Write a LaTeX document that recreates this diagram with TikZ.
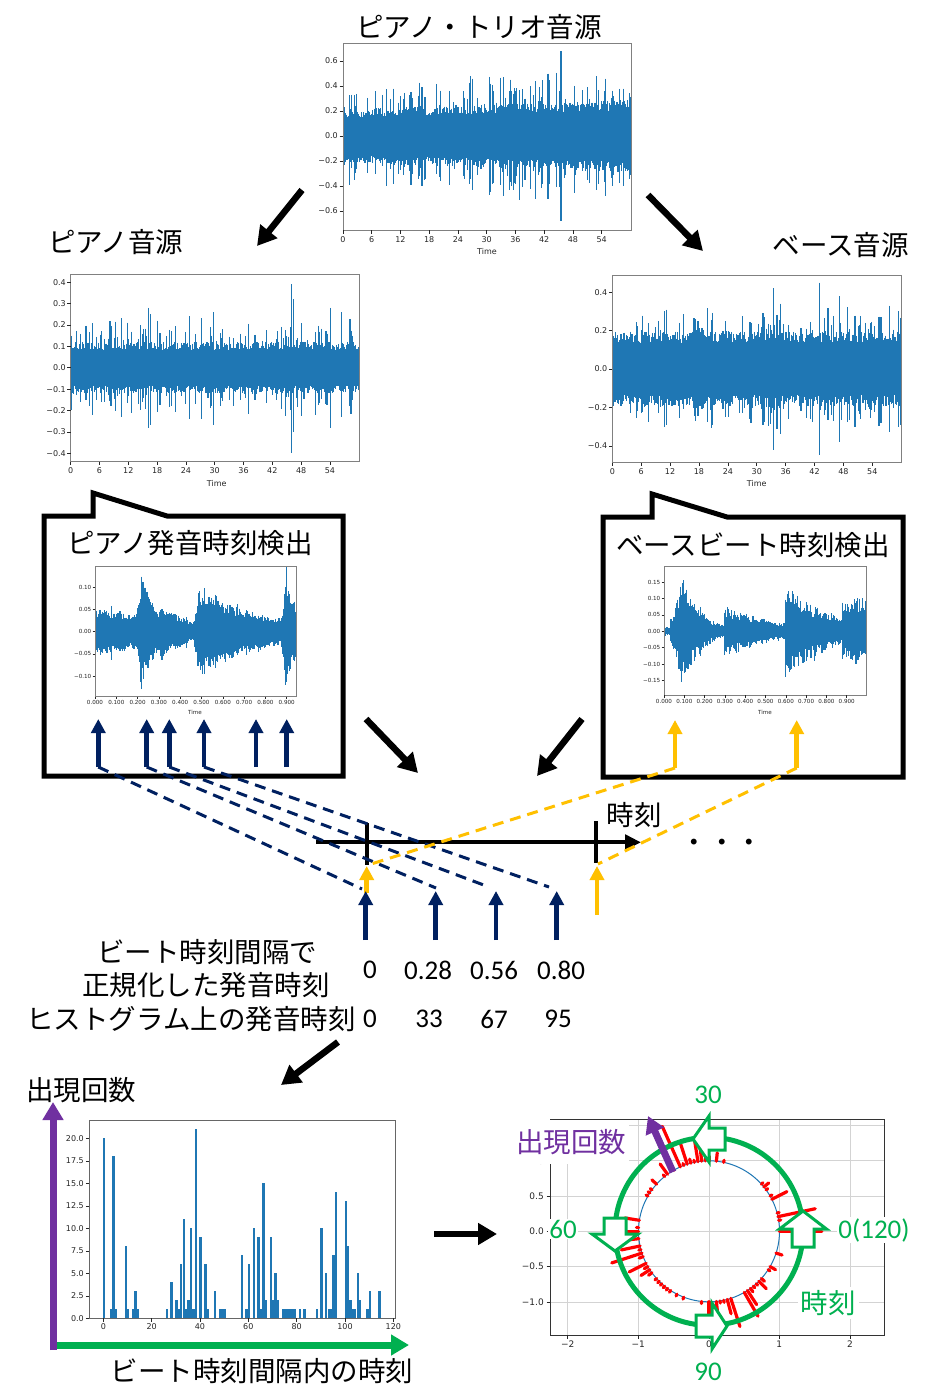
\documentclass[tikz,border=0pt]{standalone}
\usepackage{fontspec}
\setmainfont{Noto Sans CJK JP}
\newfontfamily\jpfont{Noto Sans CJK JP}
\newfontfamily\calfont{Carlito}
\newfontfamily\dvfont{DejaVu Sans}
\usetikzlibrary{arrows.meta}
\definecolor{mplblue}{HTML}{1F77B4}
\definecolor{navyb}{HTML}{002060}
\definecolor{goldy}{HTML}{FFC000}
\definecolor{pgreen}{HTML}{00B050}
\definecolor{ppurple}{HTML}{7030A0}
\definecolor{spinegray}{HTML}{808080}
\definecolor{ticktext}{HTML}{262626}
\definecolor{gridgray}{HTML}{D3D3D3}
\definecolor{redd}{HTML}{FF0000}
\newcommand{\nlo}{0.8}
\newcommand{\nhi}{0.35}
\newcommand{\spp}{0.3}
\newcommand{\spa}{1.0}
\newcommand{\wseg}[9]{%
  \foreach \ii in {0,...,#7}{%
    \pgfmathsetmacro{\tv}{(#5)+\ii*(#6)}%
    \pgfmathsetmacro{\ea}{(#8)*exp(-1*(#9)*(\tv-(#5)))}%
    \pgfmathsetmacro{\sfac}{1+(rnd<\spp)*\spa*rnd}%
    \pgfmathsetmacro{\ua}{\ea*\sfac*(\nlo+\nhi*rnd)}%
    \pgfmathsetmacro{\la}{\ea*\sfac*(\nlo+\nhi*rnd)}%
    \pgfmathsetmacro{\xx}{(#1)+\tv*(#3)}%
    \draw[wv] (\xx,{(#2)-\ua*(#4)}) -- (\xx,{(#2)+\la*(#4)});
  }}
\def\histdata{0/20,3/1,4/18,5/1,9/8,10/1,12/1,13/3,14/1,26/1,28/4,30/2,31/1,32/6,33/11,34/1,35/2,36/10,37/1,38/21,40/9,42/6,43/1,46/3,48/1,49/1,50/1,57/7,59/1,60/6,62/10,64/9,65/1,66/15,67/2,69/9,70/2,71/5,72/2,74/1,75/1,76/1,77/1,78/1,79/1,81/1,83/1,88/1,90/10,92/5,93/1,94/1,95/7,96/14,100/13,101/8,102/2,103/1,104/1,105/5,106/2,109/1,110/3,114/3}
\begin{document}
\begin{tikzpicture}[x=1pt,y=-1pt,
  wv/.style={draw=mplblue,line width=1.15pt},
  spn/.style={draw=spinegray,line width=0.9pt},
  spd/.style={draw=black!80,line width=0.9pt},
  tkm/.style={draw=ticktext,line width=0.6pt},
  tk8/.style={font=\dvfont\fontsize{8}{9}\selectfont,text=ticktext,inner sep=0pt},
  tk6/.style={font=\dvfont\fontsize{5.6}{6}\selectfont,text=ticktext,inner sep=0pt},
  tk9/.style={font=\dvfont\fontsize{9}{10}\selectfont,text=ticktext,inner sep=0pt},
  jp/.style={font=\jpfont\fontsize{27.5}{31}\selectfont,inner sep=0pt},
  num/.style={font=\calfont\fontsize{27}{30}\selectfont,inner sep=0pt},
  bigarrow/.style={line width=6.5pt,-{Triangle[width=21pt,length=19pt]}},
  callout/.style={draw=black,line width=5pt,fill=white,line join=miter},
  navyarrow/.style={draw=navyb,line width=4.5pt,-{Triangle[width=14pt,length=14pt]}},
  goldarrow/.style={draw=goldy,line width=4.5pt,-{Triangle[width=14pt,length=14pt]}},
  navydash/.style={draw=navyb,line width=3pt,dash pattern=on 11pt off 7pt},
  golddash/.style={draw=goldy,line width=3pt,dash pattern=on 11pt off 7pt},
  grd/.style={draw=gridgray,line width=0.8pt},
  redl/.style={draw=redd,line width=3.2pt,line cap=round},
  blockarr/.style={draw=pgreen,line width=3pt,fill=white,line join=miter},
  glab/.style={font=\calfont\fontsize{27}{30}\selectfont,text=pgreen,inner sep=1pt},
]
\useasboundingbox (0,0) rectangle (944,1400);
\fill[white] (0,0) rectangle (944,1400);
\pgfmathsetseed{4242}

% ---------- titles
\node[jp] (tTrio) at (479,27) {ピアノ・トリオ音源};
\node[jp,anchor=west] (tPiano) at (48,242) {ピアノ音源};
\node[jp,anchor=east] (tBass) at (909,245) {ベース音源};

% ---------- trio waveform
\begin{scope}
\clip (343,43) rectangle (631,230);
\wseg{343}{136}{4.79}{125}{0}{0.2}{301}{0.19}{-0.005}
\foreach \ta/\aa/\bb in {10.6/0.38/0.38,16.5/0.39/0.4,30.8/0.42/0.45,33.5/0.47/0.48,42.8/0.5/0.5,45.5/0.68/0.68,54.8/0.46/0.48,58.5/0.38/0.38}
  \draw[wv] ({343+4.79*\ta},{136-125*\aa}) -- ({343+4.79*\ta},{136+125*\bb});
\end{scope}
\draw[spn] (343,43) rectangle (631,230);
\foreach \vv/\lab [count=\kk] in {0.6/0.6,0.4/0.4,0.2/0.2,0/0.0,-0.2/−0.2,-0.4/−0.4,-0.6/−0.6}{
  \draw[tkm] (339.5,{136-125*\vv}) -- (343,{136-125*\vv});
  \node[tk8,anchor=east] (try\kk) at (338,{136-125*\vv}) {\lab};}
\foreach \hu [count=\kk] in {0,6,...,54}{
  \draw[tkm] ({343+4.79*\hu},230) -- ({343+4.79*\hu},233.5);
  \node[tk8,anchor=north] (trx\kk) at ({343+4.79*\hu},236) {\hu};}
\node[tk8] (trT) at (487,252) {Time};

% ---------- piano waveform
\begin{scope}
\clip (70.7,274) rectangle (359.3,461.7);
\wseg{70.7}{367.7}{4.8}{214}{0}{0.2}{301}{0.105}{0}
\foreach \ta/\aa/\bb in {10.5/0.23/0.23,16.2/0.28/0.28,16.6/0.25/0.27,24.7/0.24/0.24,27.2/0.23/0.24,29.8/0.26/0.27,46/0.39/0.4,46.4/0.32/0.3,54.2/0.28/0.28,56.5/0.26/0.23}
  \draw[wv] ({70.7+4.8*\ta},{367.7-214*\aa}) -- ({70.7+4.8*\ta},{367.7+214*\bb});
\end{scope}
\draw[spn] (70.7,274) rectangle (359.3,461.7);
\foreach \vv/\lab [count=\kk] in {0.4/0.4,0.3/0.3,0.2/0.2,0.1/0.1,0/0.0,-0.1/−0.1,-0.2/−0.2,-0.3/−0.3,-0.4/−0.4}{
  \draw[tkm] (67.2,{367.7-214*\vv}) -- (70.7,{367.7-214*\vv});
  \node[tk8,anchor=east] (piy\kk) at (66,{367.7-214*\vv}) {\lab};}
\foreach \hu [count=\kk] in {0,6,...,54}{
  \draw[tkm] ({70.7+4.8*\hu},461.7) -- ({70.7+4.8*\hu},465.2);
  \node[tk8,anchor=north] (pix\kk) at ({70.7+4.8*\hu},467) {\hu};}
\node[tk8] (piT) at (216.7,483.5) {Time};

% ---------- bass waveform
\begin{scope}
\clip (612.3,275) rectangle (901,462.7);
\renewcommand{\spa}{0.7}
\wseg{612.3}{369}{4.815}{192}{0}{0.2}{301}{0.17}{0}
\foreach \ta/\aa/\bb in {10.8/0.3/0.3,17.2/0.26/0.27,23.5/0.25/0.25,31.3/0.29/0.29,33.5/0.42/0.42,35/0.34/0.34,43/0.45/0.45,47.2/0.38/0.38,57.5/0.33/0.33,59.5/0.3/0.3}
  \draw[wv] ({612.3+4.815*\ta},{369-192*\aa}) -- ({612.3+4.815*\ta},{369+192*\bb});
\end{scope}
\draw[spn] (612.3,275) rectangle (901,462.7);
\foreach \vv/\lab [count=\kk] in {0.4/0.4,0.2/0.2,0/0.0,-0.2/−0.2,-0.4/−0.4}{
  \draw[tkm] (608.8,{369-192*\vv}) -- (612.3,{369-192*\vv});
  \node[tk8,anchor=east] (bay\kk) at (607.5,{369-192*\vv}) {\lab};}
\foreach \hu [count=\kk] in {0,6,...,54}{
  \draw[tkm] ({612.3+4.815*\hu},462.7) -- ({612.3+4.815*\hu},466.2);
  \node[tk8,anchor=north] (bax\kk) at ({612.3+4.815*\hu},468) {\hu};}
\node[tk8] (baT) at (756.7,484) {Time};

% ---------- arrows from trio
\coordinate (a1s) at (302,190); \coordinate (a1e) at (257,246);
\coordinate (a2s) at (648,195); \coordinate (a2e) at (703,251);
\draw[bigarrow] (a1s) -- (a1e);
\draw[bigarrow] (a2s) -- (a2e);

% ---------- callouts
\draw[callout] (44,516) -- (93,516) -- (93,493) -- (167,516) -- (343,516) -- (343,776) -- (44,776) -- cycle;
\draw[callout] (603,517) -- (652,517) -- (652,494) -- (727,517) -- (903,517) -- (903,777) -- (603,777) -- cycle;
\node[jp] (tPOn) at (190,543) {ピアノ発音時刻検出};
\node[jp] (tBBt) at (753,545) {ベースビート時刻検出};

% ---------- inner piano
\begin{scope}
\clip (95,566) rectangle (296.7,696.7);
\renewcommand{\nlo}{0.7}\renewcommand{\nhi}{0.4}
\renewcommand{\spp}{0.1}\renewcommand{\spa}{0.4}
\wseg{95}{631.7}{213}{443}{0}{0.0045}{42}{0.048}{1.5}
\wseg{95}{631.7}{213}{443}{0.19}{0.0045}{6}{0.03}{-55}
\wseg{95}{631.7}{213}{443}{0.217}{0.0045}{21}{0.115}{12}
\wseg{95}{631.7}{213}{443}{0.31}{0.0045}{34}{0.055}{6}
\wseg{95}{631.7}{213}{443}{0.465}{0.0045}{5}{0.025}{-55}
\wseg{95}{631.7}{213}{443}{0.49}{0.0045}{85}{0.085}{3}
\wseg{95}{631.7}{213}{443}{0.875}{0.0045}{4}{0.035}{-65}
\wseg{95}{631.7}{213}{443}{0.895}{0.0045}{12}{0.115}{15}
\end{scope}
\draw[spn] (95,566) rectangle (296.7,696.7);
\foreach \vv/\lab [count=\kk] in {0.1/0.10,0.05/0.05,0/0.00,-0.05/−0.05,-0.1/−0.10}{
  \draw[tkm] (92.5,{631.7-443*\vv}) -- (95,{631.7-443*\vv});
  \node[tk6,anchor=east] (ipy\kk) at (91.5,{631.7-443*\vv}) {\lab};}
\foreach \hu/\lab [count=\kk] in {0/0.000,0.1/0.100,0.2/0.200,0.3/0.300,0.4/0.400,0.5/0.500,0.6/0.600,0.7/0.700,0.8/0.800,0.9/0.900}{
  \draw[tkm] ({95+213*\hu},696.7) -- ({95+213*\hu},699.2);
  \node[tk6,anchor=north] (ipx\kk) at ({95+213*\hu},700.5) {\lab};}
\node[tk6] (ipT) at (195,712.7) {Time};

% ---------- inner bass
\begin{scope}
\clip (664,566) rectangle (866.7,695);
\renewcommand{\nlo}{0.6}\renewcommand{\nhi}{0.5}
\renewcommand{\spp}{0.05}\renewcommand{\spa}{0.2}
\wseg{664}{631.3}{203}{328}{0}{0.0047}{6}{0.012}{0}
\wseg{664}{631.3}{203}{328}{0.03}{0.0047}{12}{0.03}{-30}
\wseg{664}{631.3}{203}{328}{0.09}{0.0047}{44}{0.16}{11}
\wseg{664}{631.3}{203}{328}{0.3}{0.0047}{64}{0.075}{4}
\wseg{664}{631.3}{203}{328}{0.6}{0.0047}{60}{0.13}{4.2}
\wseg{664}{631.3}{203}{328}{0.88}{0.0047}{26}{0.085}{-1}
\end{scope}
\draw[spn] (664,566) rectangle (866.7,695);
\foreach \vv/\lab [count=\kk] in {0.15/0.15,0.1/0.10,0.05/0.05,0/0.00,-0.05/−0.05,-0.1/−0.10,-0.15/−0.15}{
  \draw[tkm] (661.5,{631.3-328*\vv}) -- (664,{631.3-328*\vv});
  \node[tk6,anchor=east] (iby\kk) at (660.5,{631.3-328*\vv}) {\lab};}
\foreach \hu/\lab [count=\kk] in {0/0.000,0.1/0.100,0.2/0.200,0.3/0.300,0.4/0.400,0.5/0.500,0.6/0.600,0.7/0.700,0.8/0.800,0.9/0.900}{
  \draw[tkm] ({664+203*\hu},695) -- ({664+203*\hu},697.5);
  \node[tk6,anchor=north] (ibx\kk) at ({664+203*\hu},699) {\lab};}
\node[tk6] (ibT) at (765,712.7) {Time};

% ---------- arrows inside boxes
\foreach \xp [count=\kk] in {98.3,146.7,169.3,204,256,286.7}{
  \coordinate (pb\kk) at (\xp,767);
  \coordinate (pt\kk) at (\xp,719);
  \draw[navyarrow] (pb\kk) -- (pt\kk);}
\coordinate (gb1) at (675,768); \coordinate (gt1) at (675,720);
\coordinate (gb2) at (796.7,768); \coordinate (gt2) at (796.7,720);
\draw[goldarrow] (gb1) -- (gt1);
\draw[goldarrow] (gb2) -- (gt2);

% ---------- arrows to timeline
\coordinate (a3s) at (366,719); \coordinate (a3e) at (418,773);
\coordinate (a4s) at (582,719); \coordinate (a4e) at (537,776);
\draw[bigarrow] (a3s) -- (a3e);
\draw[bigarrow] (a4s) -- (a4e);

% ---------- timeline
\coordinate (tl0) at (316,842.3); \coordinate (tl1) at (641,842.3);
\draw[line width=4pt,-{Triangle[width=15pt,length=16pt]}] (tl0) -- (tl1);
\coordinate (k1a) at (366.7,823); \coordinate (k1b) at (366.7,865);
\coordinate (k2a) at (596,821); \coordinate (k2b) at (596,863);
\draw[line width=4pt] (k1a) -- (k1b);
\draw[line width=4pt] (k2a) -- (k2b);
\node[jp] (tTime) at (634,815) {時刻};
\node[jp] (tDots) at (722,846) {・・・};

% gold arrows below timeline
\coordinate (gu1b) at (366.7,893); \coordinate (gu1t) at (366.7,866);
\coordinate (gu2b) at (597,915); \coordinate (gu2t) at (597,866);
\draw[goldarrow] (gu1b) -- (gu1t);
\draw[goldarrow] (gu2b) -- (gu2t);
% navy arrows below
\foreach \xp [count=\kk] in {365.7,435.7,496,556.7}{
  \coordinate (nb\kk) at (\xp,940);
  \coordinate (nt\kk) at (\xp,891);
  \draw[navyarrow] (nb\kk) -- (nt\kk);}
% dashed lines
\coordinate (nd1) at (362,889); \coordinate (nd2) at (436,888);
\coordinate (nd3) at (489,887); \coordinate (nd4) at (549,887);
\draw[navydash] (pb1) -- (nd1);
\draw[navydash] (pb2) -- (nd2);
\draw[navydash] (pb3) -- (nd3);
\draw[navydash] (pb4) -- (nd4);
\coordinate (gd1) at (368,865); \coordinate (gd2) at (598,864);
\draw[golddash] (gb1) -- (gd1);
\draw[golddash] (gb2) -- (gd2);

% ---------- text block
\node[jp] (l1) at (207,952) {ビート時刻間隔で};
\node[jp] (l2) at (206,985) {正規化した発音時刻};
\node[jp] (l3) at (191,1019) {ヒストグラム上の発音時刻};
\node[num] (n0a) at (370,970) {0};
\node[num] (n1a) at (428,970) {0.28};
\node[num] (n2a) at (494,970) {0.56};
\node[num] (n3a) at (561,970) {0.80};
\node[num] (n0b) at (370,1019) {0};
\node[num] (n1b) at (429,1019) {33};
\node[num] (n2b) at (494,1019) {67};
\node[num] (n3b) at (558,1019) {95};

% ---------- histogram
\coordinate (a5s) at (338,1042); \coordinate (a5e) at (281,1085);
\draw[bigarrow] (a5s) -- (a5e);
\node[jp] (hY) at (81,1090) {出現回数};
\foreach \hu/\hc in \histdata{
  \fill[mplblue] ({102.8+2.417*\hu},1318.3) rectangle ({105.1+2.417*\hu},{1318.3-9*\hc});}
\draw[spd,draw=black!60] (89.3,1120) rectangle (395.7,1318.3);
\foreach \vv/\lab [count=\kk] in {0/0.0,2.5/2.5,5/5.0,7.5/7.5,10/10.0,12.5/12.5,15/15.0,17.5/17.5,20/20.0}{
  \draw[tkm] (85.8,{1318.3-9*\vv}) -- (89.3,{1318.3-9*\vv});
  \node[tk8,anchor=east] (hy\kk) at (84,{1318.3-9*\vv}) {\lab};}
\foreach \hu [count=\kk] in {0,20,...,120}{
  \draw[tkm] ({103.3+2.417*\hu},1318.3) -- ({103.3+2.417*\hu},1321.8);
  \node[tk8,anchor=north] (hx\kk) at ({103.3+2.417*\hu},1323.5) {\hu};}
\coordinate (gx0) at (56,1345); \coordinate (gx1) at (409,1345);
\draw[draw=pgreen,line width=7pt,-{Triangle[width=20pt,length=18pt]}] (gx0) -- (gx1);
\coordinate (py0) at (53,1350); \coordinate (py1) at (53,1102);
\draw[draw=ppurple,line width=7pt,-{Triangle[width=20pt,length=18pt]}] (py0) -- (py1);
\node[jp] (hX) at (262,1371) {ビート時刻間隔内の時刻};

% ---------- arrow to polar
\coordinate (a6s) at (434,1234); \coordinate (a6e) at (497,1234);
\draw[bigarrow] (a6s) -- (a6e);

% ---------- polar plot
\foreach \gx in {567.7,638.3,709,779.3,850} \draw[grd] (\gx,1119.3) -- (\gx,1335);
\foreach \gy in {1125.4,1160.8,1196.1,1231.3,1266.6,1302} \draw[grd] (550,\gy) -- (884.3,\gy);
\draw[spd] (550,1119.3) rectangle (884.3,1335);
\begin{scope}
\clip (500,1120.5) rectangle (560,1340);
\foreach \gy/\lab [count=\kk] in {1125.4/1.5,1160.8/1.0,1196.1/0.5,1231.3/0.0,1266.6/−0.5,1302/−1.0}{
  \draw[tkm] (546.5,\gy) -- (550,\gy);
  \node[tk9,anchor=east] (ply\kk) at (544,\gy) {\lab};}
\end{scope}
\foreach \gx/\lab [count=\kk] in {567.7/−2,638.3/−1,709/0,779.3/1,850/2}{
  \draw[tkm] (\gx,1335) -- (\gx,1338.5);
  \node[tk9,anchor=north] (plx\kk) at (\gx,1340.5) {\lab};}
\draw[mplblue,line width=1pt] (709,1231.3) circle (70.5pt);
\foreach \hu/\hc in \histdata{
  \pgfmathsetmacro{\rr}{70.5*(1+0.03*\hc)}
  \draw[redl] ({709+70.5*cos(3*\hu)},{1231.3-70.5*sin(3*\hu)}) -- ({709+\rr*cos(3*\hu)},{1231.3-\rr*sin(3*\hu)});}
\draw[pgreen,line width=5pt] (709,1231.3) circle (94pt);
% block arrows (counter-clockwise)
\draw[blockarr] (792,1247) -- (792,1229) -- (779.5,1229) -- (803,1211) -- (826.5,1229) -- (814,1229) -- (814,1247) -- cycle;
\draw[blockarr] (725,1128) -- (709,1128) -- (709,1116) -- (693,1139) -- (709,1162) -- (709,1150) -- (725,1150) -- cycle;
\draw[blockarr] (604,1218) -- (626,1218) -- (626,1234) -- (638,1234) -- (615,1251) -- (592,1234) -- (604,1234) -- cycle;
\draw[blockarr] (696,1315) -- (712,1315) -- (712,1303) -- (727,1326) -- (712,1349) -- (712,1337) -- (696,1337) -- cycle;
\coordinate (pa0) at (673,1172); \coordinate (pa1) at (648,1116);
\draw[draw=ppurple,line width=7pt,-{Triangle[width=19pt,length=17pt]}] (pa0) -- (pa1);
\node[jp,text=ppurple,fill=white,inner xsep=3pt,minimum height=44pt] (pCount) at (571,1142) {出現回数};
\node[glab] (p30) at (708,1095) {30};
\node[glab,fill=white] (p60) at (563,1229) {60};
\node[glab,fill=white] (p0) at (874,1230) {0(120)};
\node[glab] (p90) at (708,1372) {90};
\node[jp,text=pgreen,fill=white,inner sep=3pt] (pTime) at (828,1303) {時刻};
\end{tikzpicture}
\end{document}
